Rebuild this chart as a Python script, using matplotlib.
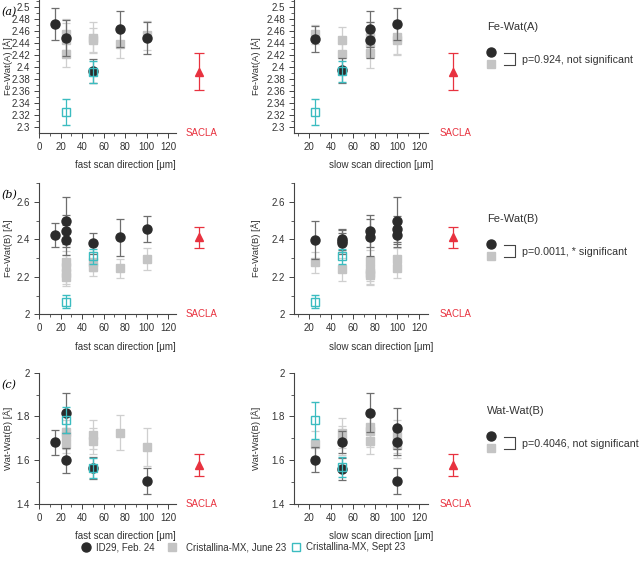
import matplotlib
matplotlib.use("Agg")
import matplotlib.pyplot as plt
from matplotlib.ticker import MultipleLocator
from matplotlib.lines import Line2D

plt.rcParams['font.family'] = ['Liberation Sans', 'DejaVu Sans']

# ---- data ----
# row (a) Fe-Wat(A)
a_fast_id29_x = [15, 25, 50, 75, 100]
a_fast_id29_y = [2.472, 2.449, 2.394, 2.463, 2.449]
a_fast_id29_e = [0.027, 0.030, 0.020, 0.030, 0.027]
a_fast_jun_x = [25, 25, 25, 50, 50, 75, 100]
a_fast_jun_y = [2.455, 2.445, 2.422, 2.449, 2.445, 2.438, 2.453]
a_fast_jun_e = [0.026, 0.028, 0.022, 0.026, 0.020, 0.022, 0.024]
a_fast_sep_x = [25, 50]
a_fast_sep_y = [2.325, 2.392]
a_fast_sep_e = [0.021, 0.018]

a_slow_id29_x = [25, 50, 75, 75, 100]
a_slow_id29_y = [2.447, 2.395, 2.463, 2.445, 2.472]
a_slow_id29_e = [0.021, 0.021, 0.030, 0.030, 0.027]
a_slow_jun_x = [25, 50, 50, 75, 75, 75, 100, 100]
a_slow_jun_y = [2.455, 2.445, 2.422, 2.450, 2.440, 2.423, 2.450, 2.445]
a_slow_jun_e = [0.016, 0.022, 0.022, 0.026, 0.025, 0.025, 0.028, 0.025]
a_slow_sep_x = [25, 50]
a_slow_sep_y = [2.325, 2.393]
a_slow_sep_e = [0.021, 0.018]

a_sacla_y, a_sacla_e = 2.392, 0.031

# row (b) Fe-Wat(B)
b_fast_id29_x = [15, 25, 25, 25, 50, 75, 100]
b_fast_id29_y = [2.423, 2.500, 2.443, 2.396, 2.378, 2.410, 2.456]
b_fast_id29_e = [0.065, 0.125, 0.085, 0.080, 0.055, 0.100, 0.070]
b_fast_jun_x = [25, 25, 25, 25, 50, 50, 75, 100]
b_fast_jun_y = [2.280, 2.250, 2.220, 2.200, 2.280, 2.250, 2.245, 2.295]
b_fast_jun_e = [0.060, 0.065, 0.060, 0.050, 0.050, 0.045, 0.050, 0.060]
b_fast_sep_x = [25, 50]
b_fast_sep_y = [2.067, 2.310]
b_fast_sep_e = [0.035, 0.040]

b_slow_id29_x = [25, 50, 50, 50, 75, 75, 100, 100, 100]
b_slow_id29_y = [2.395, 2.400, 2.390, 2.378, 2.443, 2.410, 2.500, 2.456, 2.423]
b_slow_id29_e = [0.100, 0.055, 0.060, 0.055, 0.085, 0.100, 0.125, 0.070, 0.065]
b_slow_jun_x = [25, 50, 75, 75, 75, 75, 100, 100]
b_slow_jun_y = [2.277, 2.240, 2.285, 2.240, 2.220, 2.210, 2.295, 2.245]
b_slow_jun_e = [0.055, 0.060, 0.060, 0.065, 0.060, 0.055, 0.060, 0.050]
b_slow_sep_x = [25, 50]
b_slow_sep_y = [2.067, 2.310]
b_slow_sep_e = [0.035, 0.040]

b_sacla_y, b_sacla_e = 2.410, 0.055

# row (c) Wat-Wat(B)
c_fast_id29_x = [15, 25, 25, 50, 100]
c_fast_id29_y = [1.683, 1.815, 1.600, 1.565, 1.505]
c_fast_id29_e = [0.057, 0.090, 0.057, 0.050, 0.060]
c_fast_jun_x = [25, 25, 25, 50, 50, 75, 100]
c_fast_jun_y = [1.730, 1.710, 1.675, 1.717, 1.688, 1.725, 1.662]
c_fast_jun_e = [0.080, 0.075, 0.070, 0.065, 0.060, 0.080, 0.087]
c_fast_sep_x = [25, 50]
c_fast_sep_y = [1.783, 1.565]
c_fast_sep_e = [0.060, 0.045]

c_slow_id29_x = [25, 50, 50, 75, 100, 100, 100]
c_slow_id29_y = [1.603, 1.685, 1.560, 1.818, 1.745, 1.685, 1.505]
c_slow_id29_e = [0.057, 0.050, 0.050, 0.090, 0.095, 0.060, 0.060]
c_slow_jun_x = [25, 50, 50, 75, 75, 75, 100, 100]
c_slow_jun_y = [1.675, 1.725, 1.690, 1.750, 1.735, 1.688, 1.710, 1.670]
c_slow_jun_e = [0.060, 0.070, 0.065, 0.080, 0.075, 0.060, 0.075, 0.060]
c_slow_sep_x = [25, 50]
c_slow_sep_y = [1.783, 1.570]
c_slow_sep_e = [0.085, 0.045]

c_sacla_y, c_sacla_e = 1.580, 0.050

row_titles = ['Fe-Wat(A)', 'Fe-Wat(B)', 'Wat-Wat(B)']
row_ylabels = ['Fe-Wat(A) [Å]', 'Fe-Wat(B) [Å]', 'Wat-Wat(B) [Å]']
row_pvalues = ['p=0.924, not significant', 'p=0.0011, * significant',
               'p=0.4046, not significant']
row_letters = ['(a)', '(b)', '(c)']
legend_labels = ['ID29, Feb. 24', 'Cristallina-MX, June 23', 'Cristallina-MX, Sept 23']

rows = [
    (a_fast_id29_x, a_fast_id29_y, a_fast_id29_e, a_fast_jun_x, a_fast_jun_y, a_fast_jun_e,
     a_fast_sep_x, a_fast_sep_y, a_fast_sep_e,
     a_slow_id29_x, a_slow_id29_y, a_slow_id29_e, a_slow_jun_x, a_slow_jun_y, a_slow_jun_e,
     a_slow_sep_x, a_slow_sep_y, a_slow_sep_e, a_sacla_y, a_sacla_e),
    (b_fast_id29_x, b_fast_id29_y, b_fast_id29_e, b_fast_jun_x, b_fast_jun_y, b_fast_jun_e,
     b_fast_sep_x, b_fast_sep_y, b_fast_sep_e,
     b_slow_id29_x, b_slow_id29_y, b_slow_id29_e, b_slow_jun_x, b_slow_jun_y, b_slow_jun_e,
     b_slow_sep_x, b_slow_sep_y, b_slow_sep_e, b_sacla_y, b_sacla_e),
    (c_fast_id29_x, c_fast_id29_y, c_fast_id29_e, c_fast_jun_x, c_fast_jun_y, c_fast_jun_e,
     c_fast_sep_x, c_fast_sep_y, c_fast_sep_e,
     c_slow_id29_x, c_slow_id29_y, c_slow_id29_e, c_slow_jun_x, c_slow_jun_y, c_slow_jun_e,
     c_slow_sep_x, c_slow_sep_y, c_slow_sep_e, c_sacla_y, c_sacla_e),
]

# layout
ylims = [(2.2905, 2.512), (2.0, 2.70), (1.4, 2.0)]
ymajor = [0.02, 0.2, 0.2]
yminor = [0.01, 0.1, 0.1]
ytickfmt = [lambda v, p: ('%.2f' % v).rstrip('0').rstrip('.'),
            lambda v, p: ('%.1f' % v).rstrip('0').rstrip('.'),
            lambda v, p: ('%.1f' % v).rstrip('0').rstrip('.')]
row_bottom = [0.7647, 0.4427, 0.1064]
row_height = [0.2353, 0.2328, 0.2328]

ID29_C = '#2b2b2b'
JUN_C = '#c4c4c4'
SEP_C = '#3bbcc0'
SACLA_C = '#e8323f'
ERR_ID29 = '#6e6e6e'
ERR_JUN = '#cfcfcf'
SACLA_X_FAST = 148.6
SACLA_X_SLOW = 151

fig = plt.figure(figsize=(6.4, 5.64), dpi=100)


def draw_panel(ax, d, xlim, spine_end, sacla_x, ylim, r, xlabel, ylab_x):
    (ix, iy, ie, jx, jy, je, sx, sy, se, sacla_y, sacla_e) = d
    ax.errorbar(jx, jy, yerr=je, fmt='s', ms=6, color=JUN_C, ecolor=ERR_JUN,
                elinewidth=0.9, capsize=3, capthick=0.9, zorder=2)
    ax.errorbar(ix, iy, yerr=ie, fmt='o', ms=6.5, color=ID29_C, ecolor=ERR_ID29,
                elinewidth=0.9, capsize=3, capthick=0.9, zorder=3)
    ax.errorbar(sx, sy, yerr=se, fmt='s', ms=6, mfc='none', mec=SEP_C, mew=1,
                ecolor=SEP_C, elinewidth=0.9, capsize=3, capthick=0.9, zorder=4)
    ax.errorbar([sacla_x], [sacla_y], yerr=[sacla_e], fmt='^', ms=5.5, color=SACLA_C,
                ecolor=SACLA_C, elinewidth=0.9, capsize=3.5, capthick=0.9,
                zorder=4, clip_on=False)
    ax.text(sacla_x + 2, ylim[0], 'SACLA', color=SACLA_C, fontsize=7,
            ha='center', va='center')
    ax.set_xlim(*xlim)
    ax.set_ylim(*ylim)
    for s in ['top', 'right']:
        ax.spines[s].set_visible(False)
    ax.spines['bottom'].set_bounds(xlim[0], spine_end)
    for s in ['left', 'bottom']:
        ax.spines[s].set_color('#444444')
        ax.spines[s].set_linewidth(0.8)
    ax.set_xticks([t for t in range(0, 121, 20) if t >= xlim[0]])
    ax.set_xticks([t for t in range(0, 128, 10) if t >= xlim[0]], minor=True)
    ax.yaxis.set_major_locator(MultipleLocator(ymajor[r]))
    ax.yaxis.set_minor_locator(MultipleLocator(yminor[r]))
    ax.yaxis.set_major_formatter(ytickfmt[r])
    ax.tick_params(which='major', direction='out', length=3.5, width=0.7,
                   color='#444444', labelsize=7, labelcolor='#333333', pad=3)
    ax.tick_params(which='minor', direction='out', length=2, width=0.6, color='#444444')
    ax.set_xlabel(xlabel, fontsize=7, color='#333333', labelpad=6)
    ax.set_ylabel(row_ylabels[r], fontsize=6.8, color='#333333')
    ax.yaxis.set_label_coords(ylab_x, 0.5)


for r, d in enumerate(rows):
    fast = d[0:9] + d[18:20]
    slow = d[9:18] + d[18:20]
    axl = fig.add_axes([39 / 640, row_bottom[r], 172.3 / 640, row_height[r]])
    draw_panel(axl, fast, (0, 160), 127, SACLA_X_FAST, ylims[r], r,
               'fast scan direction [μm]', -0.152)
    axr = fig.add_axes([294 / 640, row_bottom[r], 174.3 / 640, row_height[r]])
    draw_panel(axr, slow, (6, 165), 128.6, SACLA_X_SLOW, ylims[r], r,
               'slow scan direction [μm]', -0.189)

    # panel letter
    top_px = (1 - row_bottom[r] - row_height[r]) * 564
    fig.text(1 / 640, 1 - (top_px + 12) / 564, row_letters[r], fontsize=8,
             family='DejaVu Serif', style='italic', ha='left', va='center')

    # right side annotation
    title_y = [27, 219, 411][r]
    fig.text(487 / 640, 1 - title_y / 564, row_titles[r], fontsize=8,
             color='#333333', ha='left', va='center')
    cy = title_y + 25
    fig.add_artist(Line2D([491 / 640], [1 - cy / 564], marker='o', ms=6.5,
                          color=ID29_C, ls='none'))
    fig.add_artist(Line2D([491 / 640], [1 - (cy + 12) / 564], marker='s', ms=6,
                          color=JUN_C, ls='none'))
    fig.add_artist(Line2D([504 / 640, 515 / 640, 515 / 640, 504 / 640],
                          [1 - (cy + 0.5) / 564, 1 - (cy + 0.5) / 564,
                           1 - (cy + 13) / 564, 1 - (cy + 13) / 564],
                          color='#444444', lw=0.8))
    fig.text(522 / 640, 1 - (cy + 8) / 564, row_pvalues[r], fontsize=7.7,
             color='#333333', ha='left', va='center')

# bottom legend
leg_y = 1 - 547 / 564
fig.add_artist(Line2D([86 / 640], [leg_y], marker='o', ms=6.5, color=ID29_C, ls='none'))
fig.text(96 / 640, leg_y, legend_labels[0], fontsize=7, color='#333333', va='center')
fig.add_artist(Line2D([172 / 640], [leg_y], marker='s', ms=6, color=JUN_C, ls='none'))
fig.text(186 / 640, leg_y, legend_labels[1], fontsize=7, color='#333333', va='center')
fig.add_artist(Line2D([296 / 640], [leg_y], marker='s', ms=6, mfc='none', mec=SEP_C,
                      mew=1, ls='none'))
fig.text(306 / 640, leg_y, legend_labels[2], fontsize=7, color='#333333', va='center')

fig.savefig('out.png', dpi=100)
